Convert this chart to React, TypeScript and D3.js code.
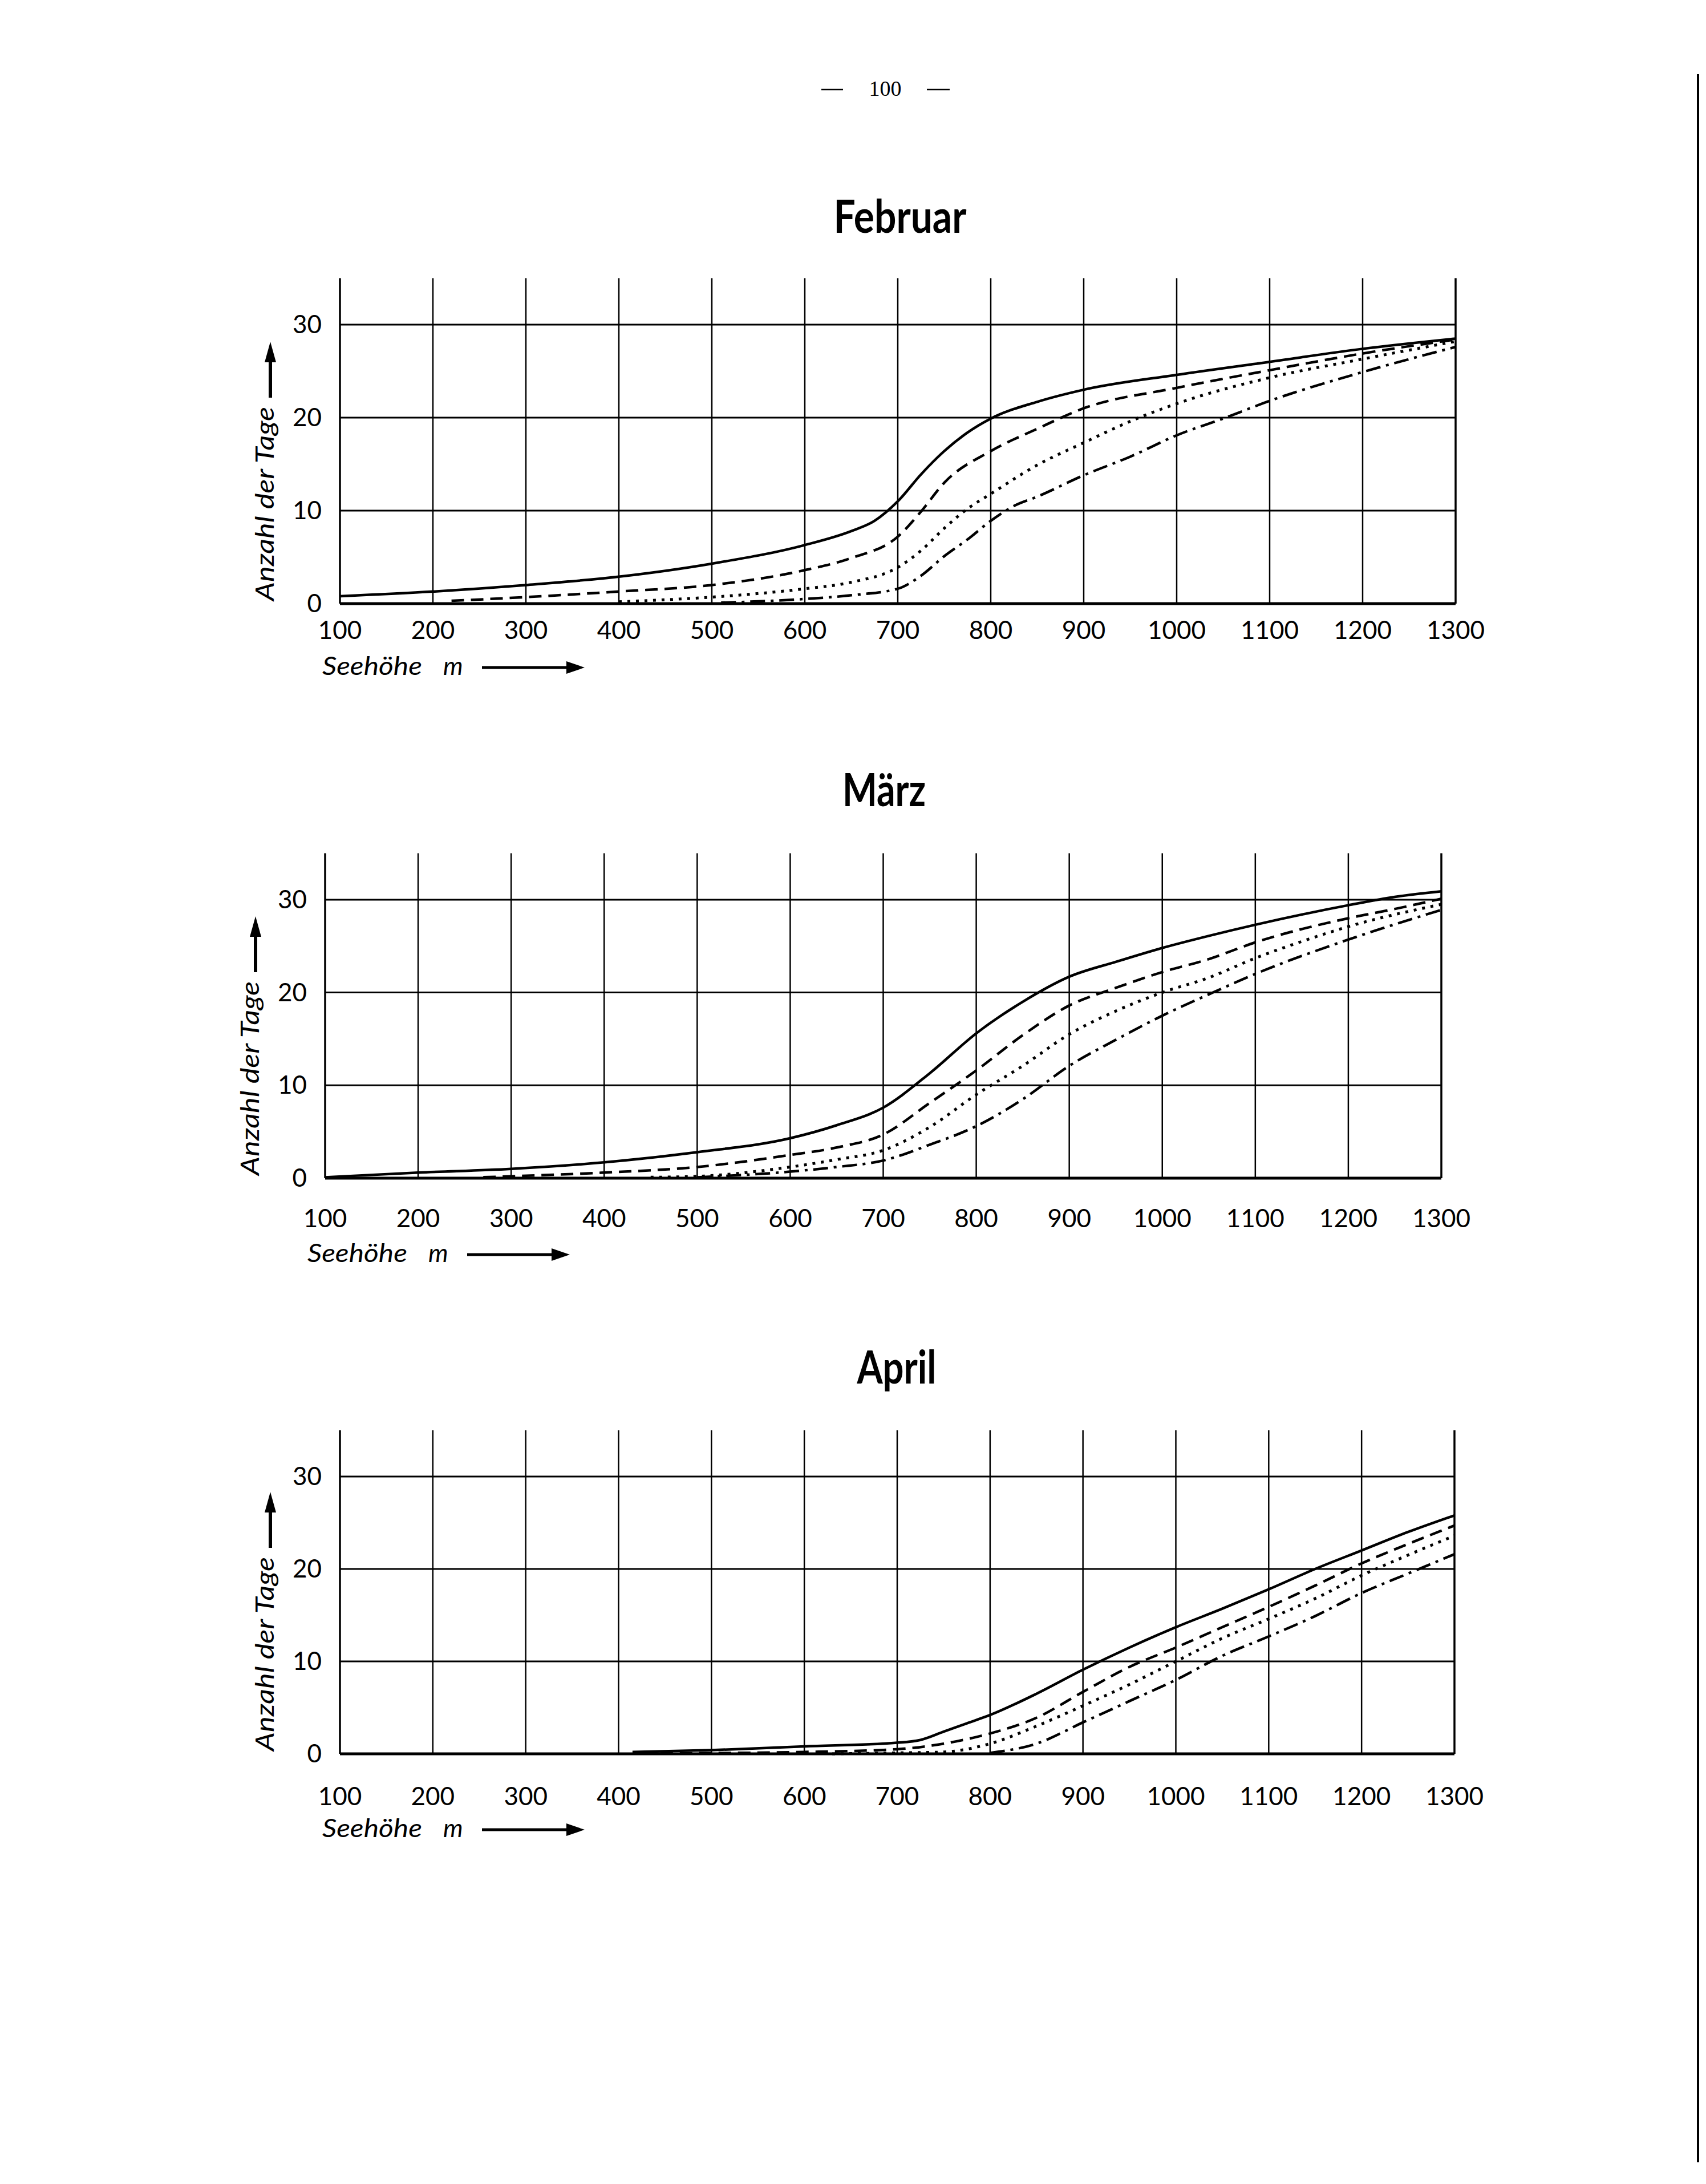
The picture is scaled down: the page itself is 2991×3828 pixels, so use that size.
import React from 'react';
import * as d3 from 'd3';

// [Seehöhe m, Anzahl der Tage]
const febSolid = [[100, 0.8], [200, 1.3], [300, 2.0], [400, 2.9], [500, 4.3], [600, 6.3], [650, 7.8], [675, 8.9], [700, 11.0], [725, 13.9], [750, 16.4], [775, 18.4], [800, 19.9], [850, 21.7], [900, 23.0], [1000, 24.6], [1100, 26.0], [1200, 27.4], [1300, 28.5]];
const febDashed = [[220, 0.3], [300, 0.7], [400, 1.3], [500, 2.0], [600, 3.6], [650, 4.9], [700, 7.2], [725, 9.9], [750, 13.0], [800, 16.4], [850, 18.8], [900, 21.0], [1000, 23.2], [1100, 25.1], [1200, 26.9], [1300, 28.4]];
const febDotted = [[400, 0.2], [500, 0.7], [600, 1.6], [650, 2.3], [700, 3.9], [725, 5.7], [750, 8.1], [775, 10.2], [800, 11.8], [850, 14.9], [900, 17.3], [950, 19.6], [1000, 21.5], [1100, 24.3], [1200, 26.3], [1300, 28.2]];
const febDashDot = [[510, 0.1], [600, 0.5], [650, 0.9], [700, 1.6], [725, 3.0], [750, 5.1], [775, 6.9], [800, 8.9], [825, 10.5], [850, 11.5], [900, 13.8], [950, 15.8], [1000, 18.1], [1050, 19.9], [1100, 21.8], [1200, 24.9], [1300, 27.6]];

const marSolid = [[100, 0.1], [200, 0.6], [300, 1.0], [400, 1.7], [500, 2.8], [600, 4.3], [650, 5.7], [700, 7.6], [750, 11.3], [800, 15.6], [850, 19.0], [900, 21.7], [950, 23.3], [1000, 24.8], [1050, 26.1], [1100, 27.3], [1200, 29.4], [1250, 30.3], [1300, 30.9]];
const marDashed = [[270, 0.1], [300, 0.2], [400, 0.6], [500, 1.2], [600, 2.5], [650, 3.3], [700, 4.7], [750, 8.1], [800, 11.6], [850, 15.4], [900, 18.6], [950, 20.5], [1000, 22.2], [1050, 23.6], [1100, 25.4], [1200, 28.0], [1250, 29.0], [1300, 30.1]];
const marDotted = [[450, 0.1], [500, 0.2], [600, 1.2], [650, 2.0], [700, 3.0], [750, 5.5], [800, 9.0], [850, 12.1], [900, 15.5], [950, 18.0], [1000, 20.0], [1050, 21.6], [1100, 23.7], [1150, 25.5], [1200, 27.1], [1300, 29.5]];
const marDashDot = [[500, 0.1], [600, 0.7], [650, 1.2], [700, 1.9], [750, 3.6], [800, 5.6], [850, 8.5], [900, 12.1], [950, 14.9], [1000, 17.5], [1050, 19.8], [1100, 22.0], [1200, 25.7], [1300, 28.9]];

const aprSolid = [[415, 0.2], [500, 0.4], [600, 0.8], [700, 1.2], [725, 1.5], [750, 2.4], [775, 3.3], [800, 4.2], [850, 6.5], [900, 9.1], [950, 11.5], [1000, 13.7], [1050, 15.7], [1100, 17.8], [1150, 20.0], [1200, 22.0], [1250, 24.0], [1300, 25.8]];
const aprDashed = [[445, 0.05], [600, 0.2], [700, 0.5], [750, 1.1], [800, 2.2], [850, 3.9], [900, 6.7], [950, 9.4], [1000, 11.5], [1050, 13.7], [1100, 15.9], [1150, 18.2], [1200, 20.6], [1250, 22.7], [1300, 24.7]];
const aprDotted = [[630, 0], [700, 0.1], [750, 0.2], [800, 1.1], [850, 3.0], [900, 5.2], [950, 7.5], [1000, 10.0], [1050, 12.5], [1100, 14.6], [1150, 16.8], [1200, 19.3], [1250, 21.5], [1300, 23.6]];
const aprDashDot = [[800, 0.1], [850, 1.1], [900, 3.4], [950, 5.7], [1000, 8.0], [1050, 10.6], [1100, 12.7], [1150, 14.9], [1200, 17.4], [1250, 19.5], [1300, 21.6]];

const xTicks = [100, 200, 300, 400, 500, 600, 700, 800, 900, 1000, 1100, 1200, 1300];
const yTicks = [0, 10, 20, 30];
const dashes = [null, '22 12', '5 10', '26 10 5 10'];

const W = 2991, H = 3828;
const FONT = 'Lato, "Noto Sans", sans-serif';

// layout of the three panels, in page pixels
const panels = [
  { title: 'Februar', series: [febSolid, febDashed, febDotted, febDashDot], x0: 596, x1: 2552, y0: 1058, unit: 16.3, tx: 1578, ty: 408, tw: 233, tickDy: 62, labelDy: 125 },
  { title: 'März', series: [marSolid, marDashed, marDotted, marDashDot], x0: 570, x1: 2527, y0: 2065, unit: 16.27, tx: 1550, ty: 1413, tw: 146, tickDy: 86, labelDy: 147 },
  { title: 'April', series: [aprSolid, aprDashed, aprDotted, aprDashDot], x0: 596, x1: 2550, y0: 3074, unit: 16.2, tx: 1572, ty: 2425, tw: 139, tickDy: 90, labelDy: 146 },
];

function Panel({ p }: { p: typeof panels[number] }) {
  const x = d3.scaleLinear().domain([100, 1300]).range([p.x0, p.x1]);
  const y = d3.scaleLinear().domain([0, 35]).range([p.y0, p.y0 - 35 * p.unit]);
  const line = d3.line<number[]>().x(d => x(d[0])).y(d => y(d[1])).curve(d3.curveMonotoneX);
  const ax = p.x0 - 122;
  const ay = y(0) - 361;
  const hx = p.x0 + 249;
  const hy = y(0) + p.labelDy - 13;
  return (
    <g>
      <text x={p.tx} y={p.ty} textAnchor="middle" fontFamily={FONT} fontWeight={700} fontSize={80}
        textLength={p.tw} lengthAdjust="spacingAndGlyphs">{p.title}</text>
      {xTicks.map(t => (
        <line key={'v' + t} x1={x(t)} x2={x(t)} y1={y(35)} y2={y(0)} stroke="#000"
          strokeWidth={t === 100 || t === 1300 ? 3.5 : 2.5} />
      ))}
      {yTicks.map(t => (
        <line key={'h' + t} x1={x(100)} x2={x(1300)} y1={y(t)} y2={y(t)} stroke="#000"
          strokeWidth={t === 0 ? 5 : 3} />
      ))}
      {p.series.map((s, i) => (
        <path key={'s' + i} d={line(s) || ''} fill="none" stroke="#000" strokeWidth={i === 2 ? 5 : 4.5}
          strokeDasharray={dashes[i] || undefined} />
      ))}
      {yTicks.map(t => (
        <text key={'yl' + t} x={p.x0 - 32} y={y(t) + 15} textAnchor="end" fontFamily={FONT} fontSize={44}>{t}</text>
      ))}
      {xTicks.map(t => (
        <text key={'xl' + t} x={x(t)} y={y(0) + p.tickDy} textAnchor="middle" fontFamily={FONT} fontSize={44}>{t}</text>
      ))}
      <text transform={`translate(${p.x0 - 116},${y(0) - 5}) rotate(-90)`} fontFamily={FONT} fontStyle="italic"
        fontSize={44} textLength={340} lengthAdjust="spacingAndGlyphs">Anzahl der Tage</text>
      <line x1={ax} x2={ax} y1={ay} y2={ay - 70} stroke="#000" strokeWidth={6} />
      <path d={`M${ax},${ay - 98} L${ax - 10},${ay - 62} L${ax + 10},${ay - 62} Z`} fill="#000" />
      <text x={p.x0 - 31} y={y(0) + p.labelDy} fontFamily={FONT} fontStyle="italic" fontSize={44}
        textLength={175} lengthAdjust="spacingAndGlyphs">Seehöhe</text>
      <text x={p.x0 + 181} y={y(0) + p.labelDy} fontFamily={FONT} fontStyle="italic" fontSize={44}>m</text>
      <line x1={hx} x2={hx + 150} y1={hy} y2={hy} stroke="#000" strokeWidth={5} />
      <path d={`M${hx + 180},${hy} L${hx + 148},${hy - 11} L${hx + 148},${hy + 11} Z`} fill="#000" />
    </g>
  );
}

export default function App() {
  return (
    <div style={{ position: 'absolute', left: 0, top: 0 }}>
      <svg width={W} height={H} viewBox={`0 0 ${W} ${H}`} style={{ display: 'block', background: '#fff' }}>
        <rect width={W} height={H} fill="#fff" />
        <line x1={1440} x2={1478} y1={157} y2={157} stroke="#000" strokeWidth={2.5} />
        <text x={1552} y={168} textAnchor="middle" fontFamily='"Liberation Serif", serif' fontSize={38}>100</text>
        <line x1={1625} x2={1665} y1={157} y2={157} stroke="#000" strokeWidth={2.5} />
        {panels.map(p => <Panel key={p.title} p={p} />)}
        <line x1={2977} x2={2977} y1={130} y2={3790} stroke="#000" strokeWidth={4} />
      </svg>
    </div>
  );
}
